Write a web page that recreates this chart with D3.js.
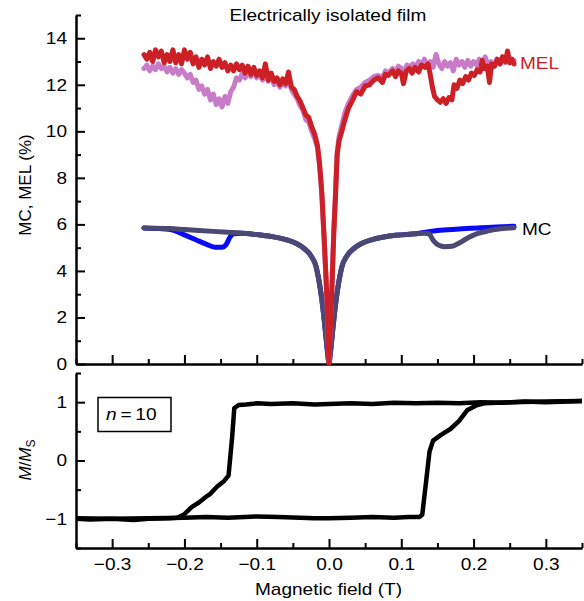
<!DOCTYPE html>
<html>
<head>
<meta charset="utf-8">
<script src="https://cdn.jsdelivr.net/npm/d3@7"></script>
<style>
  body { margin: 0; background: #fff; }
  text { font-family: "Liberation Sans", Arial, sans-serif; fill: #000; }
</style>
</head>
<body>
<div class="chart"></div>
<script>
// ---- data (field in T) ----
const melRed = [[-0.256,13.3],[-0.252,13.1],[-0.248,13.4],[-0.244,13.0],[-0.240,13.5],[-0.236,13.2],[-0.232,13.45],[-0.228,12.95],[-0.224,13.3],[-0.220,13.0],[-0.216,13.5],[-0.212,12.95],[-0.208,13.3],[-0.204,12.9],[-0.200,13.5],[-0.196,13.1],[-0.192,13.4],[-0.188,12.9],[-0.184,13.2],[-0.180,12.75],[-0.176,13.1],[-0.172,12.85],[-0.168,13.2],[-0.164,12.7],[-0.160,13.0],[-0.156,12.8],[-0.152,13.1],[-0.148,12.75],[-0.144,12.95],[-0.140,12.6],[-0.136,12.85],[-0.132,12.6],[-0.128,12.9],[-0.124,12.65],[-0.120,12.85],[-0.116,12.5],[-0.112,12.8],[-0.108,12.45],[-0.104,12.75],[-0.100,12.4],[-0.096,12.6],[-0.092,12.3],[-0.088,12.9],[-0.084,12.2],[-0.080,12.5],[-0.076,12.15],[-0.072,12.3],[-0.068,12.0],[-0.064,12.25],[-0.060,12.05],[-0.056,12.55],[-0.052,11.9],[-0.048,11.8],[-0.044,11.5],[-0.040,11.3],[-0.036,11.0],[-0.032,10.7],[-0.028,10.6],[-0.024,10.2],[-0.020,9.9],[-0.016,9.4],[-0.013,8.6],[-0.010,7.4],[-0.007,5.6],[-0.005,4.3],[-0.0025,2.6],[-0.001,1.0],[0,0.05],
  [0.001,1.0],[0.0035,2.75],[0.0066,5.6],[0.009,7.2],[0.0113,9.0],[0.014,9.6],[0.0177,10.0],[0.022,10.5],[0.027,11.0],[0.032,11.3],[0.038,11.7],[0.044,11.6],[0.050,11.95],[0.056,12.0],[0.062,12.2],[0.068,12.3],[0.074,12.1],[0.078,12.45],[0.082,12.4],[0.088,12.6],[0.092,12.35],[0.096,12.6],[0.100,12.5],[0.103,12.05],[0.107,12.6],[0.111,12.7],[0.115,12.5],[0.119,12.75],[0.124,12.55],[0.128,12.85],[0.133,12.75],[0.137,12.9],[0.140,12.45],[0.143,11.9],[0.146,11.5],[0.150,11.35],[0.154,11.25],[0.158,11.4],[0.162,11.2],[0.166,11.45],[0.170,11.35],[0.173,12.0],[0.177,11.85],[0.181,12.2],[0.185,12.05],[0.189,12.35],[0.193,12.2],[0.197,12.5],[0.201,12.4],[0.205,12.65],[0.209,12.55],[0.212,13.05],[0.215,12.7],[0.219,12.8],[0.222,12.1],[0.225,12.9],[0.229,12.8],[0.233,13.1],[0.237,12.9],[0.240,13.2],[0.244,13.0],[0.247,13.45],[0.250,12.95],[0.253,13.1],[0.256,12.9]];

const melPink = [[-0.256,12.7],[-0.252,12.85],[-0.248,12.6],[-0.244,12.8],[-0.240,12.65],[-0.236,12.9],[-0.232,12.7],[-0.228,12.8],[-0.224,12.55],[-0.220,12.75],[-0.216,12.5],[-0.212,12.7],[-0.208,12.45],[-0.204,12.65],[-0.200,12.5],[-0.196,12.3],[-0.192,12.45],[-0.188,12.1],[-0.184,12.2],[-0.180,11.8],[-0.176,11.95],[-0.172,11.6],[-0.168,11.8],[-0.164,11.35],[-0.160,11.6],[-0.156,11.15],[-0.152,11.4],[-0.148,11.05],[-0.144,11.5],[-0.140,11.2],[-0.136,11.7],[-0.132,11.9],[-0.128,12.3],[-0.124,12.2],[-0.120,12.5],[-0.116,12.3],[-0.112,12.55],[-0.108,12.35],[-0.104,12.6],[-0.100,12.3],[-0.096,12.5],[-0.092,12.2],[-0.088,12.6],[-0.084,12.15],[-0.080,12.4],[-0.076,12.0],[-0.072,12.2],[-0.068,11.9],[-0.064,12.1],[-0.060,11.95],[-0.056,12.3],[-0.052,11.8],[-0.048,11.6],[-0.044,11.4],[-0.040,11.1],[-0.036,10.9],[-0.032,10.5],[-0.028,10.4],[-0.024,10.0],[-0.020,9.7],[-0.016,9.3],[-0.013,8.5],[-0.010,7.3],[-0.007,5.5],[-0.005,4.2],[-0.0025,2.5],[-0.001,1.0],[0,0.05],
  [0.001,1.0],[0.0035,2.9],[0.0066,5.7],[0.009,7.4],[0.0113,9.1],[0.014,9.8],[0.018,10.3],[0.022,10.8],[0.027,11.2],[0.032,11.5],[0.038,11.8],[0.044,11.9],[0.050,12.1],[0.056,12.2],[0.062,12.35],[0.068,12.4],[0.074,12.3],[0.078,12.6],[0.082,12.5],[0.088,12.7],[0.092,12.55],[0.096,12.8],[0.100,12.7],[0.104,12.6],[0.108,12.85],[0.112,12.75],[0.116,12.9],[0.120,12.75],[0.124,13.0],[0.128,12.85],[0.132,13.1],[0.136,12.8],[0.140,13.0],[0.144,12.75],[0.148,13.3],[0.152,12.9],[0.156,12.7],[0.160,13.0],[0.164,12.8],[0.168,12.95],[0.172,12.6],[0.176,13.1],[0.180,12.85],[0.184,13.0],[0.188,12.75],[0.192,13.05],[0.196,12.8],[0.200,13.0],[0.204,12.85],[0.208,13.1],[0.212,12.9],[0.216,13.2],[0.220,12.85],[0.224,13.0],[0.228,12.8],[0.232,13.1],[0.236,12.9],[0.240,13.2],[0.244,12.95],[0.248,13.15],[0.252,13.0],[0.256,13.05]];

const mcBlue = [[-0.256,5.85],[-0.235,5.82],[-0.215,5.75],[-0.200,5.55],[-0.185,5.35],[-0.170,5.15],[-0.158,5.02],[-0.148,5.02],[-0.142,5.15],[-0.137,5.45],[-0.132,5.6],[-0.120,5.62],[-0.100,5.56],[-0.080,5.48],[-0.060,5.35],[-0.045,5.18],[-0.035,4.98],[-0.025,4.65],[-0.018,4.2],[-0.014,3.6],[-0.010,2.8],[-0.007,2.0],[-0.004,1.1],[-0.002,0.5],[0,0.05],[0.002,0.5],[0.004,1.1],[0.007,2.0],[0.010,2.8],[0.014,3.6],[0.018,4.2],[0.025,4.65],[0.035,4.98],[0.045,5.18],[0.060,5.35],[0.080,5.48],[0.100,5.55],[0.120,5.6],[0.140,5.7],[0.150,5.74],[0.180,5.8],[0.210,5.86],[0.240,5.9],[0.256,5.92]];

const mcGrey = [[-0.256,5.85],[-0.220,5.82],[-0.200,5.78],[-0.180,5.74],[-0.160,5.70],[-0.140,5.66],[-0.120,5.62],[-0.100,5.56],[-0.080,5.48],[-0.060,5.35],[-0.045,5.18],[-0.035,4.98],[-0.025,4.65],[-0.018,4.2],[-0.014,3.6],[-0.010,2.8],[-0.007,2.0],[-0.004,1.1],[-0.002,0.5],[0,0.05],[0.002,0.5],[0.004,1.1],[0.007,2.0],[0.010,2.8],[0.014,3.6],[0.018,4.2],[0.025,4.65],[0.035,4.98],[0.045,5.18],[0.060,5.35],[0.080,5.48],[0.100,5.55],[0.120,5.6],[0.132,5.62],[0.138,5.6],[0.145,5.28],[0.152,5.1],[0.160,5.04],[0.170,5.06],[0.180,5.2],[0.190,5.38],[0.205,5.6],[0.220,5.72],[0.240,5.82],[0.256,5.86]];

// hysteresis loop, sweep down then sweep up
const loopDown = [[0.35,1.02],[0.33,1.01],[0.30,1.0],[0.27,1.01],[0.24,0.99],[0.21,1.0],[0.18,0.98],[0.15,0.99],[0.12,0.98],[0.09,0.99],[0.06,0.97],[0.03,0.98],[0.0,0.97],[-0.02,0.96],[-0.05,0.98],[-0.08,0.97],[-0.10,0.98],[-0.115,0.96],[-0.125,0.95],[-0.131,0.9],[-0.134,0.4],[-0.137,0.0],[-0.139,-0.26],[-0.145,-0.35],[-0.155,-0.45],[-0.165,-0.58],[-0.170,-0.62],[-0.180,-0.72],[-0.190,-0.8],[-0.200,-0.92],[-0.210,-0.98],[-0.220,-0.99],[-0.25,-1.0],[-0.27,-1.02],[-0.30,-1.0],[-0.33,-1.01],[-0.35,-1.0]];
const loopUp = [[-0.35,-0.99],[-0.30,-1.0],[-0.25,-0.99],[-0.20,-0.98],[-0.17,-0.97],[-0.14,-0.98],[-0.10,-0.96],[-0.07,-0.97],[-0.04,-0.98],[-0.02,-0.99],[0.0,-0.99],[0.03,-0.98],[0.06,-0.97],[0.09,-0.98],[0.11,-0.97],[0.125,-0.97],[0.129,-0.93],[0.134,-0.4],[0.139,0.15],[0.144,0.34],[0.155,0.44],[0.168,0.54],[0.180,0.68],[0.191,0.86],[0.205,0.95],[0.215,0.98],[0.25,1.0],[0.30,1.01],[0.35,1.02]];

const xMajor = [-0.3,-0.2,-0.1,0,0.1,0.2,0.3];
const xMinor = [-0.35,-0.25,-0.15,-0.05,0.05,0.15,0.25,0.35];
const topMajor = [0,2,4,6,8,10,12,14];
const topMinor = [1,3,5,7,9,11,13,15];
const botMajor = [-1,0,1];
const botMinor = [-1.5,-0.5,0.5,1.5];

// ---- layout ----
const W = 584, H = 601;
const left = 76, right = 582;
const xStretch = 1.12; // the figure's lettering is a bit wide

const svg = d3.select('.chart').append('svg')
    .attr("width", W)
    .attr("height", H);

const x = d3.scaleLinear().domain([-0.35, 0.35]).range([left, right]);
const yTop = d3.scaleLinear().domain([0, 15]).range([364, 15]);
const yBot = d3.scaleLinear().domain([-1.5, 1.5]).range([548, 373]);

function stretch(sel) {
    sel.each(function() {
        let w = this.getComputedTextLength();
        d3.select(this).attr("textLength", w * xStretch).attr("lengthAdjust", "spacingAndGlyphs");
    });
}

function styleAxis(g) {
    g.select(".domain").attr("stroke-width", 2);
    g.selectAll(".tick line").attr("stroke-width", 2);
    g.selectAll("text").style("font-size", "17px").attr("fill", "#000");
}

// top panel axes
svg.append("g").attr("transform", "translate(0,364)")
    .call(d3.axisBottom(x).tickValues(xMajor).tickSize(-9).tickSizeOuter(0).tickFormat(""))
    .call(styleAxis);
svg.append("g").attr("transform", "translate(0,364)")
    .call(d3.axisBottom(x).tickValues(xMinor).tickSize(-5).tickSizeOuter(0).tickFormat(""))
    .call(styleAxis);
svg.append("g").attr("transform", `translate(${left},0)`)
    .call(d3.axisLeft(yTop).tickValues(topMajor).tickSize(-9).tickSizeOuter(0).tickPadding(9))
    .call(styleAxis);
svg.append("g").attr("transform", `translate(${left},0)`)
    .call(d3.axisLeft(yTop).tickValues(topMinor).tickSize(-5).tickSizeOuter(0).tickFormat(""))
    .call(styleAxis);

// bottom panel axes
svg.append("g").attr("transform", "translate(0,548)")
    .call(d3.axisBottom(x).tickValues(xMajor).tickSize(-9).tickSizeOuter(0).tickPadding(10).tickFormat(d3.format(".1f")))
    .call(styleAxis);
svg.append("g").attr("transform", "translate(0,548)")
    .call(d3.axisBottom(x).tickValues(xMinor).tickSize(-5).tickSizeOuter(0).tickFormat(""))
    .call(styleAxis);
svg.append("g").attr("transform", `translate(${left},0)`)
    .call(d3.axisLeft(yBot).tickValues(botMajor).tickSize(-9).tickSizeOuter(0).tickPadding(9).tickFormat(d3.format("d")))
    .call(styleAxis);
svg.append("g").attr("transform", `translate(${left},0)`)
    .call(d3.axisLeft(yBot).tickValues(botMinor).tickSize(-5).tickSizeOuter(0).tickFormat(""))
    .call(styleAxis);

// curves
const lineTop = d3.line().x(d => x(d[0])).y(d => yTop(d[1]));
const lineBot = d3.line().x(d => x(d[0])).y(d => yBot(d[1]));

const curves = [
    {data: mcBlue, color: "#0a0af5", curve: d3.curveMonotoneX},
    {data: mcGrey, color: "#4b4971", curve: d3.curveMonotoneX},
    {data: melPink, color: "#c87cc7", curve: d3.curveLinear},
    {data: melRed, color: "#cd1f26", curve: d3.curveLinear}
];
svg.append("g").selectAll("path")
    .data(curves)
    .join("path")
    .attr("d", d => lineTop.curve(d.curve)(d.data))
    .attr("fill", "none")
    .attr("stroke", d => d.color)
    .attr("stroke-width", 5)
    .attr("stroke-linejoin", "round")
    .attr("stroke-linecap", "round");

svg.append("defs").append("clipPath").attr("id", "clipBot")
    .append("rect").attr("x", left).attr("y", 373).attr("width", right - left + 2).attr("height", 175);

svg.append("g").attr("clip-path", "url(#clipBot)")
    .selectAll("path")
    .data([loopDown, loopUp])
    .join("path")
    .attr("d", d => lineBot.curve(d3.curveLinear)(d))
    .attr("fill", "none")
    .attr("stroke", "#000")
    .attr("stroke-width", 4.5)
    .attr("stroke-linejoin", "round");

// labels
svg.append("text").attr("x", 328).attr("y", 21).attr("text-anchor", "middle")
    .style("font-size", "17px").text("Electrically isolated film");
svg.append("text").attr("x", 520).attr("y", 69)
    .style("font-size", "17px").attr("fill", "#cd1f26").style("fill", "#cd1f26").text("MEL");
svg.append("text").attr("x", 522).attr("y", 235)
    .style("font-size", "17px").text("MC");
svg.append("text").attr("x", 328.5).attr("y", 595).attr("text-anchor", "middle")
    .style("font-size", "17px").text("Magnetic field (T)");

svg.append("text").attr("transform", "translate(31,185) rotate(-90)").attr("text-anchor", "middle")
    .style("font-size", "17px").text("MC, MEL (%)");

const mLab = svg.append("text").attr("transform", "translate(31,460) rotate(-90)").attr("text-anchor", "middle")
    .style("font-size", "17px");
mLab.append("tspan").style("font-style", "italic").text("M");
mLab.append("tspan").text("/");
mLab.append("tspan").style("font-style", "italic").text("M");
mLab.append("tspan").attr("dy", 4).style("font-size", "12px").text("S");

// n = 10 box
svg.append("rect").attr("x", 98).attr("y", 397.5).attr("width", 73).attr("height", 34)
    .attr("fill", "none").attr("stroke", "#000").attr("stroke-width", 1.5);
const nLab = svg.append("text").attr("x", 106).attr("y", 420).style("font-size", "17px");
nLab.append("tspan").style("font-style", "italic").text("n");
nLab.append("tspan").text("\u2009=\u200910");

// widen horizontal lettering like the original
svg.selectAll("g.tick text").call(stretch);
svg.selectAll("svg > text:not([transform])").call(stretch);
</script>
</body>
</html>
